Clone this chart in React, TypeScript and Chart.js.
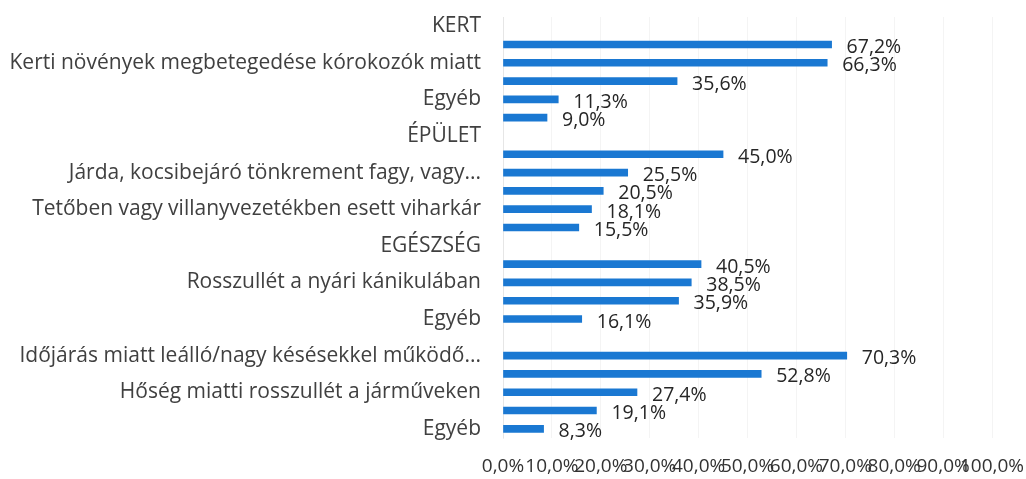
import React, { useEffect, useRef } from "react";
import { Chart, registerables } from "chart.js";

Chart.register(...registerables);

const categories: string[] = [
  "KERT",
  "",
  "Kerti növények megbetegedése kórokozók miatt",
  "",
  "Egyéb",
  "",
  "ÉPÜLET",
  "",
  "Járda, kocsibejáró tönkrement fagy, vagy...",
  "",
  "Tetőben vagy villanyvezetékben esett viharkár",
  "",
  "EGÉSZSÉG",
  "",
  "Rosszullét a nyári kánikulában",
  "",
  "Egyéb",
  "",
  "Időjárás miatt leálló/nagy késésekkel működő...",
  "",
  "Hőség miatti rosszullét a járműveken",
  "",
  "Egyéb",
];

const values: (number | null)[] = [
  null, 67.2, 66.3, 35.6, 11.3, 9.0,
  null, 45.0, 25.5, 20.5, 18.1, 15.5,
  null, 40.5, 38.5, 35.9, 16.1,
  null, 70.3, 52.8, 27.4, 19.1, 8.3,
];

const xTicks: number[] = [0, 10, 20, 30, 40, 50, 60, 70, 80, 90, 100];

const fmt = (v: number) => v.toFixed(1).replace(".", ",") + "%";

const FONT = "'Open Sans', 'Liberation Sans', sans-serif";

const labelPlugin = {
  id: "barValueLabels",
  afterDatasetsDraw(chart: any) {
    const ctx = chart.ctx;
    const meta = chart.getDatasetMeta(0);
    ctx.save();
    ctx.font = `19.5px ${FONT}`;
    ctx.fillStyle = "#262626";
    ctx.textAlign = "left";
    ctx.textBaseline = "middle";
    meta.data.forEach((el: any, i: number) => {
      const v = values[i];
      if (v === null || v === undefined) return;
      ctx.fillText(fmt(v), el.x + 15, el.y + 3);
    });
    ctx.restore();
  },
};

export default function App() {
  const ref = useRef<HTMLCanvasElement | null>(null);

  useEffect(() => {
    document.body.style.margin = "0";
    document.body.style.overflow = "hidden";
    if (!ref.current) return;
    const chart = new Chart(ref.current, {
      type: "bar",
      data: {
        labels: categories,
        datasets: [
          {
            data: values as any,
            backgroundColor: "#1a78d2",
            barThickness: 7,
          },
        ],
      },
      options: {
        indexAxis: "y",
        animation: false,
        responsive: false,
        layout: { padding: { top: 17, right: 34, left: 0, bottom: 0 } },
        plugins: {
          legend: { display: false },
          tooltip: { enabled: false },
        },
        scales: {
          x: {
            min: 0,
            max: 100,
            afterBuildTicks: (scale: any) => {
              scale.ticks = xTicks.map((v) => ({ value: v }));
            },
            afterFit: (scale: any) => {
              scale.height = 41;
              scale.paddingLeft = 0;
              scale.paddingRight = 0;
            },
            grid: {
              color: "rgba(0,0,0,0.045)",
              drawTicks: false,
            },
            border: { display: false },
            ticks: {
              padding: 17,
              color: "#333333",
              font: { family: FONT, size: 19 },
              maxRotation: 0,
              autoSkip: false,
              callback: (v: any) => fmt(Number(v)),
            },
          },
          y: {
            afterFit: (scale: any) => {
              scale.width = 503;
              scale.paddingTop = 0;
              scale.paddingBottom = 0;
            },
            grid: { display: false, drawTicks: false },
            border: { display: true, color: "rgba(0,0,0,0.06)" },
            ticks: {
              padding: 22,
              autoSkip: false,
              color: "#404040",
              font: { family: FONT, size: 21 },
            },
          },
        },
      },
      plugins: [labelPlugin],
    });
    return () => chart.destroy();
  }, []);

  return (
    <div style={{ width: 1026, height: 479 }}>
      <canvas ref={ref} width={1026} height={479} style={{ display: "block" }} />
    </div>
  );
}
